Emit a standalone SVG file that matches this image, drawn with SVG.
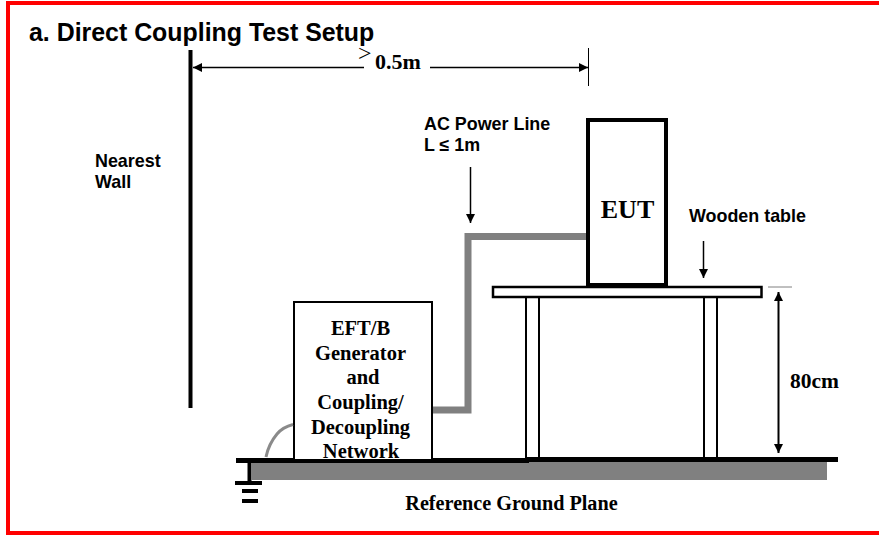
<svg xmlns="http://www.w3.org/2000/svg" width="879" height="538" viewBox="0 0 879 538">
<defs>
<marker id="ah" markerUnits="userSpaceOnUse" markerWidth="10" markerHeight="10" refX="9" refY="5" orient="auto-start-reverse"><path d="M0 0.5L9 5L0 9.5Z" fill="#000"/></marker>
</defs>
<style>
.ss{font-family:"Liberation Sans",Arial,sans-serif;font-weight:bold;font-size:17.900px;fill:#000}
.tt{font-family:"Liberation Serif","Times New Roman",serif;font-weight:bold;font-size:20.500px;fill:#000}
.m{text-anchor:middle}
.k{stroke:#000;fill:none}
.g{stroke:#808080;fill:none}
</style>
<rect x="8" y="3" width="900" height="530" fill="#fff" stroke="#f00" stroke-width="4"/>
<text id="title" x="29" y="41" style="font-family:'Liberation Sans',Arial,sans-serif;font-weight:bold;font-size:24.900px">a. Direct Coupling Test Setup</text>
<g id="wall"><line class="k" x1="190.500" y1="50" x2="190.500" y2="408" stroke-width="4"/><text class="ss" x="95" y="167">Nearest</text><text class="ss" x="95" y="188">Wall</text></g>
<g id="ground">
<rect x="252" y="461" width="575" height="19" fill="#808080"/>
<rect x="236" y="458" width="293" height="5" fill="#000"/><rect x="529" y="457" width="309" height="5" fill="#000"/>
<line class="k" x1="249.500" y1="461" x2="249.500" y2="482" stroke-width="4"/>
<rect x="235" y="481" width="27" height="4" fill="#000"/><rect x="242" y="489" width="16" height="4" fill="#000"/><rect x="242" y="499" width="16" height="4" fill="#000"/>
<text class="tt m" x="511.500" y="510" style="font-size:20.200px">Reference Ground Plane</text>
</g>
<g id="generator"><rect x="294" y="302" width="138" height="158" fill="#fff" stroke="#000" stroke-width="2"/>
<g class="tt m"><text x="360.500" y="335">EFT/B</text><text x="360.500" y="360">Generator</text><text x="363" y="384">and</text><text x="360.500" y="409">Coupling/</text><text x="360.500" y="434">Decoupling</text><text x="361" y="458">Network</text></g></g>
<g id="table">
<rect x="526" y="297" width="13" height="161" fill="#fff" stroke="#000" stroke-width="2"/>
<rect x="704" y="297" width="13" height="161" fill="#fff" stroke="#000" stroke-width="2"/>
<rect x="493" y="287" width="268.500" height="10" fill="#fff" stroke="#000" stroke-width="2.500"/>
<text class="ss" x="689" y="222">Wooden table</text>
</g>
<g id="eut"><rect x="588" y="120" width="78" height="165" fill="#fff" stroke="#000" stroke-width="4"/><text class="tt m" x="627.500" y="218" style="font-size:26px">EUT</text></g>
<g id="connectors">
<path class="g" d="M433 410H468V236.500H586" stroke-width="7"/>
<path d="M266 457C268 447 272 440 277 434C282 428 287 426 293 424.500" stroke="#8a8a8a" stroke-width="3" fill="none"/>
<line class="k" x1="364" y1="67.500" x2="193" y2="67.500" stroke-width="1.500" marker-end="url(#ah)"/>
<line class="k" x1="430" y1="67.500" x2="588" y2="67.500" stroke-width="1.500" marker-end="url(#ah)"/>
<line class="k" x1="588.500" y1="48" x2="588.500" y2="86" stroke-width="1"/>
<line class="k" x1="470.500" y1="167" x2="470.500" y2="223" stroke-width="1.500" marker-end="url(#ah)"/>
<line class="k" x1="703.500" y1="241" x2="703.500" y2="278" stroke-width="1.500" marker-end="url(#ah)"/>
<line class="k" x1="778.500" y1="292" x2="778.500" y2="453" stroke-width="2" marker-start="url(#ah)" marker-end="url(#ah)"/>
<line x1="768" y1="287" x2="792" y2="287" stroke="#808080" stroke-width="1"/>
</g>
<g id="labels">
<text x="358" y="61" style="font-family:'Liberation Serif',serif;font-size:24px">&gt;</text>
<text class="tt" x="375" y="69" style="font-size:22px">0.5m</text>
<text class="ss" x="424" y="130">AC Power Line</text>
<text class="ss" x="424" y="151">L ≤ 1m</text>
<text class="tt" x="790" y="388" style="font-size:21.500px">80cm</text>
</g>
</svg>
